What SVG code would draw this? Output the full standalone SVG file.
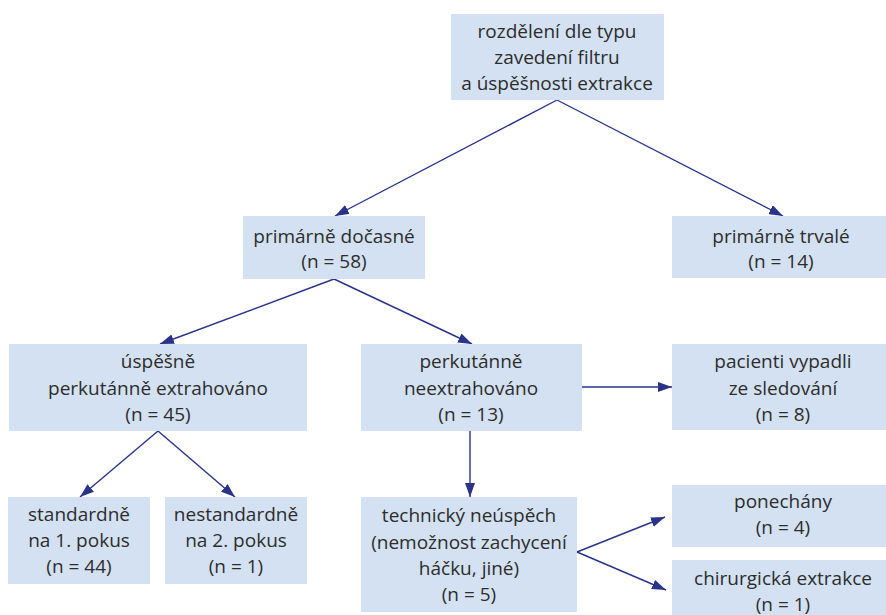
<svg xmlns="http://www.w3.org/2000/svg" width="886" height="615" viewBox="0 0 886 615">
<style>
.box{fill:#d3e1f3}
.t{font-family:"Open Sans","Noto Sans",sans-serif;font-size:19px;fill:#2d2d2d;text-anchor:middle}
.c{stroke:#2a3388;stroke-width:1.4;fill:none;marker-end:url(#ah)}
</style>
<defs>
<marker id="ah" viewBox="0 0 14 10" refX="14" refY="5" markerWidth="14" markerHeight="10" markerUnits="userSpaceOnUse" orient="auto">
<path d="M0,0 L14,5 L0,10 z" fill="#2a3388"/>
</marker>
</defs>
<rect width="886" height="615" fill="#fff"/>
<g id="connectors">
<line class="c" x1="557" y1="100" x2="335" y2="216"/>
<line class="c" x1="557" y1="100" x2="783" y2="216"/>
<line class="c" x1="334" y1="279" x2="160" y2="344"/>
<line class="c" x1="334" y1="279" x2="472" y2="344"/>
<line class="c" x1="158" y1="431" x2="80" y2="497"/>
<line class="c" x1="158" y1="431" x2="235" y2="497"/>
<line class="c" x1="582" y1="387" x2="672" y2="387"/>
<line class="c" x1="470" y1="431" x2="470" y2="497"/>
<line class="c" x1="577" y1="552" x2="665" y2="517"/>
<line class="c" x1="577" y1="552" x2="666" y2="590"/>
</g>
<g id="root">
<rect class="box" x="451" y="14" width="213" height="86"/>
<text class="t" x="557" y="38">rozdělení dle typu</text>
<text class="t" x="557" y="64">zavedení filtru</text>
<text class="t" x="557" y="90">a úspěšnosti extrakce</text>
</g>
<g id="docasne">
<rect class="box" x="243" y="216" width="182" height="63"/>
<text class="t" x="334" y="243">primárně dočasné</text>
<text class="t" x="334" y="268">(n = 58)</text>
</g>
<g id="trvale">
<rect class="box" x="672" y="216" width="222" height="62"/>
<text class="t" x="781" y="243">primárně trvalé</text>
<text class="t" x="781" y="268">(n = 14)</text>
</g>
<g id="uspesne">
<rect class="box" x="9" y="344" width="298" height="87"/>
<text class="t" x="158" y="368">úspěšně</text>
<text class="t" x="158" y="395">perkutánně extrahováno</text>
<text class="t" x="158" y="421">(n = 45)</text>
</g>
<g id="neextrahovano">
<rect class="box" x="361" y="344" width="221" height="87"/>
<text class="t" x="471" y="368">perkutánně</text>
<text class="t" x="471" y="395">neextrahováno</text>
<text class="t" x="471" y="421">(n = 13)</text>
</g>
<g id="vypadli">
<rect class="box" x="672" y="344" width="222" height="86"/>
<text class="t" x="783" y="368">pacienti vypadli</text>
<text class="t" x="783" y="395">ze sledování</text>
<text class="t" x="783" y="421">(n = 8)</text>
</g>
<g id="standardne">
<rect class="box" x="8" y="497" width="142" height="87"/>
<text class="t" x="79" y="521">standardně</text>
<text class="t" x="79" y="547">na 1. pokus</text>
<text class="t" x="79" y="573">(n = 44)</text>
</g>
<g id="nestandardne">
<rect class="box" x="165" y="497" width="142" height="87"/>
<text class="t" x="236" y="521">nestandardně</text>
<text class="t" x="236" y="547">na 2. pokus</text>
<text class="t" x="236" y="573">(n = 1)</text>
</g>
<g id="neuspech">
<rect class="box" x="361" y="497" width="216" height="115"/>
<text class="t" x="469" y="522">technický neúspěch</text>
<text class="t" x="469" y="549">(nemožnost zachycení</text>
<text class="t" x="469" y="575">háčku, jiné)</text>
<text class="t" x="469" y="601">(n = 5)</text>
</g>
<g id="ponechany">
<rect class="box" x="672" y="485" width="222" height="62"/>
<text class="t" x="783" y="508">ponechány</text>
<text class="t" x="783" y="534">(n = 4)</text>
</g>
<g id="chirurgicka">
<rect class="box" x="672" y="560" width="222" height="60"/>
<text class="t" x="783" y="585">chirurgická extrakce</text>
<text class="t" x="783" y="611">(n = 1)</text>
</g>
</svg>
